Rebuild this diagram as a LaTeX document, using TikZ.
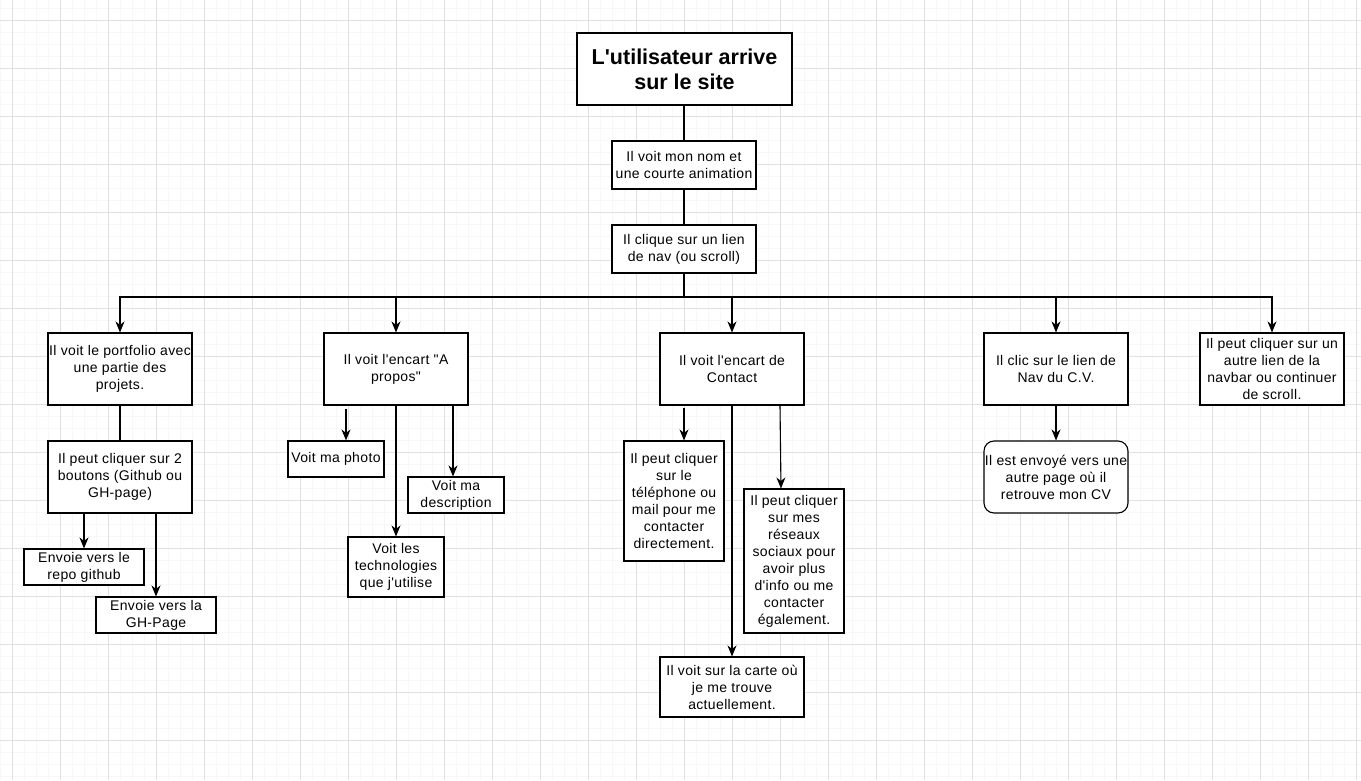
\documentclass[tikz,border=0pt]{standalone}
\usepackage{fontspec}
\setmainfont{Liberation Sans}[Ligatures=TeXOff]
\usetikzlibrary{arrows.meta,calc}
\begin{document}
\begin{tikzpicture}[x=1pt,y=1pt,
  box/.style={draw=black,line width=1.1pt,fill=white,inner sep=0pt,align=center,font=\fontsize{14}{17}\selectfont\addfontfeature{LetterSpace=2.5}},
  titlebox/.style={box,font=\fontsize{21.5}{25}\selectfont\bfseries},
  link/.style={line width=1.1pt,draw=black},
  arr/.style={link,-{Stealth[length=11pt,width=9pt,inset=3.5pt]}},
  minorgrid/.style={draw={rgb,255:red,247;green,247;blue,247},line width=1pt},
  majorgrid/.style={draw={rgb,255:red,225;green,225;blue,225},line width=1pt}]
\useasboundingbox (0,0) rectangle (1361,-780);
\fill[white] (0,0) rectangle (1361,-780);
% grid
\foreach \x in {0,12,...,1356} \draw[minorgrid] (\x,0) -- (\x,-780);
\foreach \y in {8,20,...,776} \draw[minorgrid] (0,-\y) -- (1361,-\y);
\foreach \x in {12,60,...,1356} \draw[majorgrid] (\x,0) -- (\x,-780);
\foreach \y in {20,68,...,776} \draw[majorgrid] (0,-\y) -- (1361,-\y);

% nodes
\node[titlebox,minimum width=215,minimum height=72] (t) at (684.5,-69) {L'utilisateur arrive\\sur le site};
\node[box,minimum width=144,minimum height=48] (n1) at (684,-165) {Il voit mon nom et\\une courte animation};
\node[box,minimum width=144,minimum height=48] (n2) at (684,-249) {Il clique sur un lien\\de nav (ou scroll)};
\coordinate (bus) at (684,-297);

\node[box,minimum width=144,minimum height=72] (pA) at (120,-369) {Il voit le portfolio avec\\une partie des\\projets.};
\node[box,minimum width=144,minimum height=72] (pA2) at (120,-477) {Il peut cliquer sur 2\\boutons (Github ou\\GH-page)};
\node[box,minimum width=120,minimum height=36] (pA3) at (84,-567) {Envoie vers le\\repo github};
\node[box,minimum width=120,minimum height=36] (pA4) at (156,-615) {Envoie vers la\\GH-Page};

\node[box,minimum width=144,minimum height=72] (pB) at (396,-369) {Il voit l'encart "A\\propos"};
\node[box,minimum width=96,minimum height=36] (pB1) at (336,-459) {Voit ma photo};
\node[box,minimum width=96,minimum height=36] (pB2) at (456,-495) {Voit ma\\description};
\node[box,minimum width=96,minimum height=60] (pB3) at (396,-567) {Voit les\\technologies\\que j'utilise};

\node[box,minimum width=144,minimum height=72] (pC) at (732,-369) {Il voit l'encart de\\Contact};
\node[box,minimum width=100,minimum height=120] (pC1) at (674,-501) {Il peut cliquer\\sur le\\téléphone ou\\mail pour me\\contacter\\directement.};
\node[box,minimum width=100,minimum height=144] (pC2) at (794,-561) {Il peut cliquer\\sur mes\\réseaux\\sociaux pour\\avoir plus\\d'info ou me\\contacter\\également.};
\node[box,minimum width=144,minimum height=60] (pC3) at (732,-687) {Il voit sur la carte où\\je me trouve\\actuellement.};

\node[box,minimum width=144,minimum height=72] (pD) at (1056,-369) {Il clic sur le lien de\\Nav du C.V.};
\node[box,rounded corners=10pt,minimum width=144,minimum height=72] (pD1) at (1056,-477) {Il est envoyé vers une\\autre page où il\\retrouve mon CV};

\node[box,minimum width=144,minimum height=72] (pE) at (1272,-369) {Il peut cliquer sur un\\autre lien de la\\navbar ou continuer\\de scroll.};

% connectors
\draw[link] (t.south -| n1.north) -- (n1.north);
\draw[link] (n1) -- (n2);
\draw[link] (n2.south) -- (bus);
\draw[arr] (bus) -| (pA.north);
\draw[arr] (bus) -| (pB.north);
\draw[arr] (bus) -- (bus -| pC.north) -- (pC.north);
\draw[arr] (bus) -| (pD.north);
\draw[arr] (bus) -| (pE.north);

\draw[link] (pA) -- (pA2);
\draw[arr] (pA2.south -| pA3.north) -- (pA3.north);
\draw[arr] (pA2.south -| pA4.north) -- (pA4.north);

\draw[arr] ($(pB.south -| pB1.north)+(10,-3)$) -- ($(pB1.north)+(10,0)$);
\draw[arr] ($(pB.south -| pB2.north)+(-3,0)$) -- ($(pB2.north)+(-3,0)$);
\draw[arr] (pB.south) -- (pB3.north);

\draw[arr] ($(pC.south -| pC1.north)+(10,-2)$) -- ($(pC1.north)+(10,0)$);
\draw[arr] ($(pC.south -| pC2.north)+(-14,0)$) -- ($(pC2.north)+(-13,0)$);
\draw[arr] (pC.south) -- (pC3.north);

\draw[arr] (pD) -- (pD1);
\end{tikzpicture}
\end{document}
